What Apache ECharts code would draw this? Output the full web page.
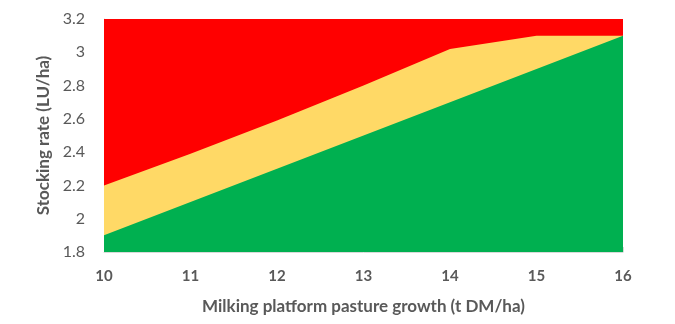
<!DOCTYPE html>
<html>
<head>
<meta charset="utf-8">
<script src="https://cdn.jsdelivr.net/npm/echarts@6/dist/echarts.min.js"></script>
<style>
html,body{margin:0;padding:0;background:#fff;}
#c{width:675px;height:324px;}
</style>
</head>
<body>
<div id="c"></div>
<script>
const growth = [10, 11, 12, 13, 14, 15, 16];
const greenLimit = [1.9, 2.1, 2.3, 2.5, 2.7, 2.9, 3.1];
const amberLimit = [2.2, 2.39, 2.59, 2.8, 3.02, 3.1, 3.1];
const redLimit = [3.2, 3.2, 3.2, 3.2, 3.2, 3.2, 3.2];
const xMinorTicks = [10.5, 11.5, 12.5, 13.5, 14.5, 15.5, 16];

const FONT = 'Lato, "Open Sans", sans-serif';
const chart = echarts.init(document.getElementById('c'), null, {renderer: 'canvas'});
function mk(name, vals, color, z) {
  return {
    name: name, type: 'line', data: growth.map((x, i) => [x, vals[i]]),
    symbol: 'none', lineStyle: {width: 0}, z: z,
    areaStyle: {color: color, opacity: 1, origin: 'start'},
    silent: true, animation: false
  };
}
chart.setOption({
  animation: false,
  grid: {left: 104, right: 52, top: 19, bottom: 72},
  xAxis: {
    type: 'value', min: 10, max: 16, interval: 1,
    name: 'Milking platform pasture growth (t DM/ha)',
    nameLocation: 'middle', nameGap: 46,
    nameTextStyle: {color: '#595959', fontFamily: FONT, fontSize: 17, fontWeight: 'bold'},
    axisLine: {show: true, lineStyle: {color: '#d9d9d9', width: 1}},
    axisTick: {show: true, inside: true, length: 5, lineStyle: {color: '#d9d9d9'}, customValues: xMinorTicks},
    axisLabel: {color: '#595959', fontFamily: FONT, fontSize: 15, fontWeight: 'bold', margin: 17},
    splitLine: {show: false}
  },
  yAxis: {
    type: 'value', min: 1.8, max: 3.2, interval: 0.2,
    name: 'Stocking rate (LU/ha)',
    nameLocation: 'middle', nameGap: 52, nameRotate: 90,
    nameTextStyle: {color: '#595959', fontFamily: FONT, fontSize: 17, fontWeight: 'bold'},
    axisLine: {show: true, lineStyle: {color: '#d9d9d9', width: 1}},
    axisTick: {show: false},
    axisLabel: {color: '#595959', fontFamily: FONT, fontSize: 16, margin: 19,
      formatter: v => String(Math.round(v * 10) / 10)},
    splitLine: {show: false}
  },
  series: [
    mk('Red', redLimit, '#ff0000', 1),
    mk('Amber', amberLimit, '#ffd966', 2),
    mk('Green', greenLimit, '#00b050', 3)
  ]
});
</script>
</body>
</html>
